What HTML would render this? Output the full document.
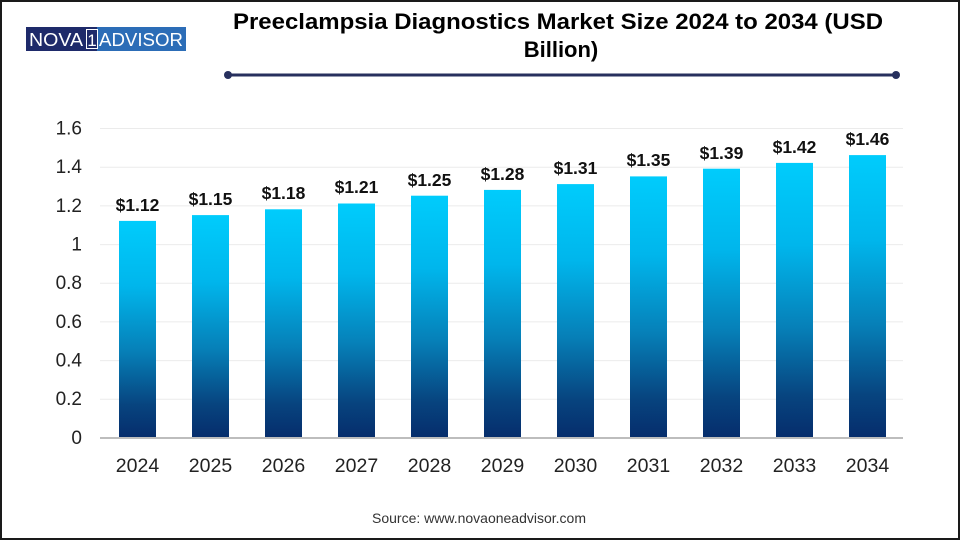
<!DOCTYPE html>
<html>
<head>
<meta charset="utf-8">
<style>
html,body{margin:0;padding:0;background:#fff;}
#wrap{position:relative;width:960px;height:540px;overflow:hidden;font-family:"Liberation Sans",Arial,sans-serif;}
svg{position:absolute;left:0;top:0;}
</style>
</head>
<body>
<div id="wrap">
<svg width="960" height="540" viewBox="0 0 960 540" xmlns="http://www.w3.org/2000/svg">
  <defs>
    <linearGradient id="g" x1="0" y1="0" x2="0" y2="1" gradientUnits="objectBoundingBox">
      <stop offset="0" stop-color="#00CCFC"/>
      <stop offset="0.3" stop-color="#00B6EC"/>
      <stop offset="0.6" stop-color="#0680B8"/>
      <stop offset="0.85" stop-color="#07447F"/>
      <stop offset="1" stop-color="#062D6C"/>
    </linearGradient>
  </defs>
  <rect x="1" y="1" width="958" height="538" fill="#fff" stroke="#1a1a1a" stroke-width="2"/>
  <!-- logo -->
  <rect x="26" y="27" width="72" height="24" fill="#1E2A6A"/>
  <rect x="97" y="27" width="89" height="24" fill="#2C6DB7"/>
  <text x="29" y="46" font-family="Liberation Sans, sans-serif" font-size="18" fill="#fff" textLength="54" lengthAdjust="spacingAndGlyphs">NOVA</text>
  <rect x="86.5" y="29.5" width="11" height="19" fill="none" stroke="#fff" stroke-width="1"/>
  <text x="92" y="46" font-family="Liberation Sans, sans-serif" font-size="17" fill="#fff" text-anchor="middle">1</text>
  <text x="99" y="46" font-family="Liberation Sans, sans-serif" font-size="18" fill="#fff" textLength="84" lengthAdjust="spacingAndGlyphs">ADVISOR</text>

  <!-- title -->
  <text x="558" y="29" font-family="Liberation Sans, sans-serif" font-size="22" font-weight="bold" fill="#000" text-anchor="middle" textLength="650" lengthAdjust="spacingAndGlyphs">Preeclampsia Diagnostics Market Size 2024 to 2034 (USD</text>
  <text x="561" y="57" font-family="Liberation Sans, sans-serif" font-size="22" font-weight="bold" fill="#000" text-anchor="middle">Billion)</text>
  <line x1="228" y1="75" x2="896" y2="75" stroke="#27305E" stroke-width="3"/>
  <circle cx="228" cy="75" r="4" fill="#27305E"/>
  <circle cx="896" cy="75" r="4" fill="#27305E"/>

  <!-- gridlines -->
  <g stroke="#ebebeb" stroke-width="1">
    <line x1="100" y1="128.5" x2="903" y2="128.5"/>
    <line x1="100" y1="167.2" x2="903" y2="167.2"/>
    <line x1="100" y1="205.9" x2="903" y2="205.9"/>
    <line x1="100" y1="244.6" x2="903" y2="244.6"/>
    <line x1="100" y1="283.2" x2="903" y2="283.2"/>
    <line x1="100" y1="321.9" x2="903" y2="321.9"/>
    <line x1="100" y1="360.6" x2="903" y2="360.6"/>
    <line x1="100" y1="399.2" x2="903" y2="399.2"/>
  </g>

  <!-- y labels -->
  <g font-family="Liberation Sans, sans-serif" font-size="19" fill="#222" text-anchor="end">
    <text x="82" y="134.5">1.6</text>
    <text x="82" y="173.2">1.4</text>
    <text x="82" y="211.9">1.2</text>
    <text x="82" y="250.6">1</text>
    <text x="82" y="289.2">0.8</text>
    <text x="82" y="327.9">0.6</text>
    <text x="82" y="366.6">0.4</text>
    <text x="82" y="405.2">0.2</text>
    <text x="82" y="444">0</text>
  </g>

  <!-- bars -->
  <g fill="url(#g)">
    <rect x="119" y="220.9" width="37" height="216.6"/>
    <rect x="192" y="215.1" width="37" height="222.4"/>
    <rect x="265" y="209.3" width="37" height="228.2"/>
    <rect x="338" y="203.5" width="37" height="234.0"/>
    <rect x="411" y="195.7" width="37" height="241.8"/>
    <rect x="484" y="189.9" width="37" height="247.6"/>
    <rect x="557" y="184.1" width="37" height="253.4"/>
    <rect x="630" y="176.4" width="37" height="261.1"/>
    <rect x="703" y="168.7" width="37" height="268.8"/>
    <rect x="776" y="162.9" width="37" height="274.6"/>
    <rect x="849" y="155.1" width="37" height="282.4"/>
  </g>

  <!-- axis -->
  <line x1="100" y1="438" x2="903" y2="438" stroke="#bdbdbd" stroke-width="2"/>

  <!-- value labels -->
  <g font-family="Liberation Sans, sans-serif" font-size="17.5" font-weight="bold" fill="#111" text-anchor="middle">
    <text x="137.5" y="211">$1.12</text>
    <text x="210.5" y="205">$1.15</text>
    <text x="283.5" y="199">$1.18</text>
    <text x="356.5" y="193">$1.21</text>
    <text x="429.5" y="186">$1.25</text>
    <text x="502.5" y="180">$1.28</text>
    <text x="575.5" y="174">$1.31</text>
    <text x="648.5" y="166">$1.35</text>
    <text x="721.5" y="159">$1.39</text>
    <text x="794.5" y="153">$1.42</text>
    <text x="867.5" y="145">$1.46</text>
  </g>

  <!-- x labels -->
  <g font-family="Liberation Sans, sans-serif" font-size="19.5" fill="#222" text-anchor="middle">
    <text x="137.5" y="472">2024</text>
    <text x="210.5" y="472">2025</text>
    <text x="283.5" y="472">2026</text>
    <text x="356.5" y="472">2027</text>
    <text x="429.5" y="472">2028</text>
    <text x="502.5" y="472">2029</text>
    <text x="575.5" y="472">2030</text>
    <text x="648.5" y="472">2031</text>
    <text x="721.5" y="472">2032</text>
    <text x="794.5" y="472">2033</text>
    <text x="867.5" y="472">2034</text>
  </g>

  <!-- source -->
  <text x="479" y="523" font-family="Liberation Sans, sans-serif" font-size="14" fill="#333" text-anchor="middle">Source: www.novaoneadvisor.com</text>
</svg>
</div>
</body>
</html>
